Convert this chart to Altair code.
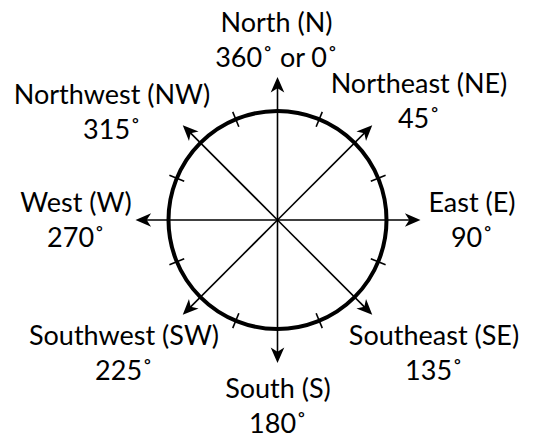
import altair as alt
import numpy as np
import pandas as pd

# ---- data ----
names = ["North (N)", "Northeast (NE)", "East (E)", "Southeast (SE)",
         "South (S)", "Southwest (SW)", "West (W)", "Northwest (NW)"]
degree_labels = ["360˚ or 0˚", "45˚", "90˚", "135˚", "180˚", "225˚", "270˚", "315˚"]
bearings = [0, 45, 90, 135, 180, 225, 270, 315]
arrow_len = [143, 134, 143, 134, 143, 134, 142, 134]
tick_bearings = [22.5, 67.5, 112.5, 157.5, 202.5, 247.5, 292.5, 337.5]
circle_radius = 109
# label anchor (relative to centre, y up): x centre, first-line baseline
label_x = [-1, 141.5, 194.5, 156.5, 0.5, -153.5, -201.5, -165.5]
label_y = [188.3, 127, 8, -125, -178, -125, 8, 116]

# ---- layout ----
W, H = 523, 425
CX, CY = 269.5, 212  # centre position in chart px from left/top

xs = alt.Scale(domain=[-CX, W - CX], nice=False, zero=False)
ys = alt.Scale(domain=[-(H - CY), CY], nice=False, zero=False)

b = np.radians(bearings)
head = 8
arrows = pd.DataFrame({
    "x": 0.0, "y": 0.0,
    "x2": (np.array(arrow_len) - head) * np.sin(b),
    "y2": (np.array(arrow_len) - head) * np.cos(b),
    "hx": (np.array(arrow_len) - head) * np.sin(b),
    "hy": (np.array(arrow_len) - head) * np.cos(b),
    "angle": bearings,
})

tb = np.radians(tick_bearings)
ticks = pd.DataFrame({
    "x": (circle_radius - 8) * np.sin(tb), "y": (circle_radius - 8) * np.cos(tb),
    "x2": (circle_radius + 8) * np.sin(tb), "y2": (circle_radius + 8) * np.cos(tb),
})

circle = pd.DataFrame({"x": [0.0], "y": [0.0]})

labels = pd.DataFrame({
    "x": label_x, "y": label_y,
    "text": [[n, d] for n, d in zip(names, degree_labels)],
})

X = lambda f: alt.X(f"{f}:Q", scale=xs, axis=None)
Y = lambda f: alt.Y(f"{f}:Q", scale=ys, axis=None)

rules = alt.Chart(arrows).mark_rule(color="black", strokeWidth=1.6).encode(
    x=X("x"), y=Y("y"), x2="x2:Q", y2="y2:Q")

heads = alt.Chart(arrows).mark_point(
    shape="M0,-1 L0.85,0.95 L0,0.4 L-0.85,0.95 Z",
    filled=True, color="black", opacity=1, size=256, strokeWidth=0
).encode(x=X("hx"), y=Y("hy"), angle=alt.Angle("angle:Q", scale=None))

ring = alt.Chart(circle).mark_point(
    shape="circle", filled=False, color="black", opacity=1,
    size=(2 * circle_radius) ** 2, strokeWidth=4
).encode(x=X("x"), y=Y("y"))

tickmarks = alt.Chart(ticks).mark_rule(color="black", strokeWidth=1.6).encode(
    x=X("x"), y=Y("y"), x2="x2:Q", y2="y2:Q")

text = alt.Chart(labels).mark_text(
    font="Lato", fontSize=27, color="black", align="center",
    baseline="alphabetic", lineHeight=35
).encode(x=X("x"), y=Y("y"), text="text")

chart = alt.layer(rules, tickmarks, ring, heads, text).properties(
    width=W, height=H, padding=0, autosize=alt.AutoSizeParams(type="none")
).configure_view(stroke=None)

chart.save("out.html", embed_options={"renderer": "svg", "actions": False})
